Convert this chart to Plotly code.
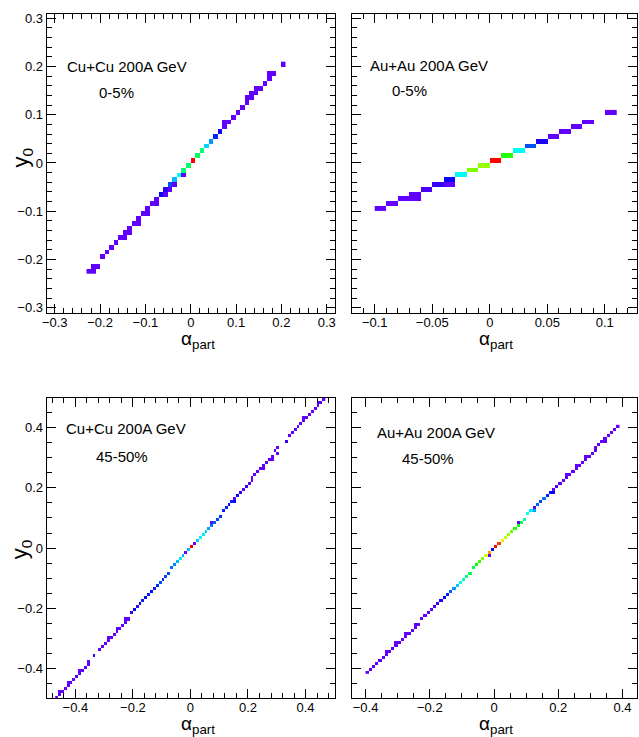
import colorsys
import numpy as np
import plotly.graph_objects as go

BIN = 0.01  # histogram bin width in both alpha_part and y0

# ---------------- Cu+Cu 0-5% ----------------
cucu_central_x = [0.205, 0.185, 0.175, 0.175, 0.165, 0.155, 0.145, 0.145, 0.135, 0.135, 0.125, 0.125,
                  0.115, 0.105, 0.095, 0.085, 0.075, 0.075, 0.065, 0.055, 0.045, 0.035, 0.025, 0.015,
                  0.005, -0.005, -0.015, -0.015, -0.025, -0.035, -0.035, -0.045, -0.045, -0.055, -0.055,
                  -0.065, -0.075, -0.075, -0.085, -0.095, -0.095, -0.105, -0.115, -0.115, -0.125, -0.135,
                  -0.135, -0.145, -0.145, -0.155, -0.165, -0.175, -0.185, -0.195, -0.205, -0.215, -0.215,
                  -0.225]
cucu_central_y = [0.205, 0.185, 0.185, 0.175, 0.165, 0.155, 0.155, 0.145, 0.145, 0.135, 0.135, 0.125,
                  0.115, 0.105, 0.095, 0.085, 0.085, 0.075, 0.065, 0.055, 0.045, 0.035, 0.025, 0.015,
                  0.005, -0.005, -0.015, -0.025, -0.025, -0.035, -0.045, -0.045, -0.055, -0.055, -0.065,
                  -0.065, -0.075, -0.085, -0.085, -0.095, -0.105, -0.105, -0.115, -0.125, -0.125, -0.135,
                  -0.145, -0.145, -0.155, -0.155, -0.165, -0.175, -0.185, -0.195, -0.215, -0.215, -0.225,
                  -0.225]
cucu_central_z = [6, 6, 6, 6, 6, 6, 6, 6, 6, 6, 6, 6,
                  6, 6, 6, 6, 6, 6, 13, 17, 27, 32, 47, 49,
                  100, 49, 47, 6, 36, 30, 6, 21, 6, 11, 6,
                  14, 6, 6, 6, 6, 6, 6, 6, 6, 6, 6,
                  6, 6, 6, 6, 6, 6, 6, 6, 6, 6, 6,
                  6]

# ---------------- Au+Au 0-5% ----------------
auau_central_x = [-0.095, -0.085, -0.075, -0.065, -0.065, -0.055, -0.045, -0.035, -0.035, -0.025, -0.015,
                  -0.005, 0.005, 0.015, 0.025, 0.035, 0.045, 0.055, 0.065, 0.075, 0.085, 0.105]
auau_central_y = [-0.095, -0.085, -0.075, -0.065, -0.075, -0.055, -0.045, -0.035, -0.045, -0.025, -0.015,
                  -0.005, 0.005, 0.015, 0.025, 0.035, 0.045, 0.055, 0.065, 0.075, 0.085, 0.105]
auau_central_z = [6, 6, 6, 6, 6, 8, 10, 14, 6, 36, 68,
                  70, 100, 60, 36, 21, 12, 6, 6, 6, 6, 6]

# ---------------- Cu+Cu 45-50% ----------------
cucu_periph_x = [-0.465, -0.455, -0.455, -0.445, -0.435, -0.425, -0.425, -0.415, -0.405, -0.395, -0.385,
                 -0.385, -0.375, -0.365, -0.355, -0.355, -0.335, -0.315, -0.305, -0.295, -0.285, -0.285,
                 -0.275, -0.265, -0.255, -0.255, -0.245, -0.235, -0.225, -0.225, -0.215, -0.205, -0.195,
                 -0.185, -0.175, -0.165, -0.155, -0.145, -0.135, -0.125, -0.115, -0.105, -0.095, -0.085,
                 -0.075, -0.065, -0.055, -0.045, -0.035, -0.025, -0.015, -0.005, 0.005, 0.015, 0.025,
                 0.035, 0.045, 0.055, 0.065, 0.075, 0.075, 0.085, 0.095, 0.105, 0.115, 0.125, 0.135,
                 0.145, 0.155, 0.155, 0.165, 0.175, 0.185, 0.195, 0.205, 0.215, 0.215, 0.225, 0.235,
                 0.245, 0.255, 0.255, 0.265, 0.275, 0.285, 0.285, 0.295, 0.305, 0.305, 0.335, 0.345,
                 0.355, 0.365, 0.375, 0.385, 0.395, 0.395, 0.405, 0.415, 0.425, 0.435, 0.445, 0.445,
                 0.455, 0.465]
cucu_periph_y = [-0.495, -0.485, -0.475, -0.475, -0.465, -0.455, -0.445, -0.445, -0.435, -0.425, -0.415,
                 -0.405, -0.405, -0.395, -0.385, -0.375, -0.355, -0.335, -0.325, -0.315, -0.305, -0.295,
                 -0.295, -0.285, -0.275, -0.265, -0.265, -0.255, -0.245, -0.235, -0.235, -0.215, -0.205,
                 -0.195, -0.185, -0.175, -0.165, -0.155, -0.145, -0.135, -0.125, -0.115, -0.105, -0.095,
                 -0.085, -0.065, -0.055, -0.045, -0.035, -0.025, -0.015, -0.005, 0.005, 0.015, 0.025,
                 0.035, 0.045, 0.055, 0.065, 0.085, 0.075, 0.085, 0.095, 0.105, 0.125, 0.135, 0.145,
                 0.155, 0.165, 0.155, 0.175, 0.185, 0.195, 0.205, 0.215, 0.225, 0.235, 0.245, 0.255,
                 0.265, 0.275, 0.265, 0.285, 0.295, 0.305, 0.295, 0.325, 0.335, 0.315, 0.355, 0.375,
                 0.385, 0.395, 0.405, 0.415, 0.425, 0.435, 0.435, 0.445, 0.455, 0.465, 0.475, 0.485,
                 0.485, 0.495]
cucu_periph_z = [6, 6, 6, 6, 6, 6, 6, 6, 6, 6, 6,
                 6, 6, 6, 6, 6, 10, 6, 6, 6, 6, 6,
                 6, 6, 6, 6, 6, 6, 6, 6, 6, 10, 14,
                 10, 14, 17, 14, 17, 14, 17, 18, 20, 18, 20,
                 21, 24, 26, 30, 34, 30, 6, 30, 100, 6, 32,
                 36, 34, 32, 28, 6, 24, 22, 20, 18, 17, 17, 14,
                 17, 6, 14, 14, 10, 6, 10, 6, 6, 6, 6, 6,
                 6, 6, 6, 6, 6, 6, 6, 6, 6, 6, 10, 6,
                 6, 6, 6, 6, 6, 6, 6, 6, 6, 6, 6, 6,
                 6, 6]

# ---------------- Au+Au 45-50% ----------------
auau_periph_x = [-0.395, -0.385, -0.375, -0.365, -0.355, -0.345, -0.335, -0.335, -0.325, -0.315, -0.305,
                 -0.305, -0.295, -0.285, -0.275, -0.275, -0.265, -0.255, -0.245, -0.245, -0.235, -0.225,
                 -0.215, -0.205, -0.195, -0.185, -0.175, -0.165, -0.155, -0.145, -0.135, -0.125, -0.115,
                 -0.105, -0.095, -0.085, -0.075, -0.065, -0.055, -0.045, -0.035, -0.025, -0.015, -0.015,
                 -0.005, 0.005, 0.015, 0.025, 0.035, 0.045, 0.055, 0.065, 0.075, 0.075, 0.085, 0.095,
                 0.105, 0.115, 0.125, 0.125, 0.135, 0.145, 0.155, 0.165, 0.175, 0.185, 0.185, 0.195,
                 0.205, 0.215, 0.225, 0.225, 0.235, 0.245, 0.255, 0.255, 0.265, 0.275, 0.285, 0.285,
                 0.295, 0.305, 0.315, 0.315, 0.325, 0.335, 0.345, 0.345, 0.355, 0.365, 0.375, 0.385]
auau_periph_y = [-0.415, -0.405, -0.395, -0.385, -0.375, -0.365, -0.355, -0.345, -0.345, -0.335, -0.325,
                 -0.315, -0.315, -0.305, -0.295, -0.285, -0.285, -0.275, -0.265, -0.255, -0.255, -0.235,
                 -0.225, -0.215, -0.205, -0.195, -0.185, -0.175, -0.165, -0.155, -0.145, -0.135, -0.125,
                 -0.115, -0.105, -0.095, -0.085, -0.065, -0.055, -0.045, -0.035, -0.025, -0.025, -0.015,
                 -0.005, 0.005, 0.015, 0.025, 0.035, 0.045, 0.055, 0.065, 0.085, 0.075, 0.085, 0.095,
                 0.115, 0.125, 0.135, 0.125, 0.145, 0.155, 0.165, 0.175, 0.185, 0.185, 0.195, 0.205,
                 0.215, 0.225, 0.235, 0.245, 0.245, 0.255, 0.265, 0.275, 0.275, 0.285, 0.295, 0.305,
                 0.305, 0.315, 0.335, 0.325, 0.345, 0.355, 0.365, 0.355, 0.375, 0.385, 0.395, 0.405]
auau_periph_z = [6, 6, 6, 6, 6, 6, 6, 6, 6, 6, 6,
                 6, 6, 6, 6, 6, 6, 6, 6, 6, 6, 6,
                 6, 6, 6, 8, 10, 12, 14, 17, 22, 27, 31,
                 36, 42, 46, 50, 52, 57, 62, 68, 76, 6, 87,
                 14, 100, 95, 80, 74, 70, 66, 60, 6, 55, 50, 44,
                 38, 34, 6, 28, 22, 20, 24, 17, 15, 13, 6, 8,
                 6, 6, 6, 6, 6, 6, 6, 6, 6, 6, 6, 6,
                 6, 6, 6, 6, 6, 6, 6, 6, 6, 6, 6, 6]

panel_titles = [("Cu+Cu 200A GeV", "0-5%"), ("Au+Au 200A GeV", "0-5%"),
                ("Cu+Cu 200A GeV", "45-50%"), ("Au+Au 200A GeV", "45-50%")]


def to_grid(xs, ys, zs):
    ix = np.rint((np.asarray(xs) - BIN / 2) / BIN).astype(int)
    iy = np.rint((np.asarray(ys) - BIN / 2) / BIN).astype(int)
    x0, y0 = ix.min(), iy.min()
    grid = [[None] * (ix.max() - x0 + 1) for _ in range(iy.max() - y0 + 1)]
    for a, b, c in zip(ix, iy, zs):
        grid[b - y0][a - x0] = c
    return grid, (x0 + 0.5) * BIN, (y0 + 0.5) * BIN


# ROOT-like "pretty" violet -> red palette
colorscale = []
for t in np.linspace(0, 1, 41):
    r, g, b = colorsys.hls_to_rgb(280 * (1 - t) / 360, 0.5, 1.0)
    colorscale.append([float(t), f"rgb({round(r*255)},{round(g*255)},{round(b*255)})"])

W, H = 639, 737
fig = go.Figure()
datasets = [(cucu_central_x, cucu_central_y, cucu_central_z),
            (auau_central_x, auau_central_y, auau_central_z),
            (cucu_periph_x, cucu_periph_y, cucu_periph_z),
            (auau_periph_x, auau_periph_y, auau_periph_z)]
for i, (xs, ys, zs) in enumerate(datasets):
    grid, gx0, gy0 = to_grid(xs, ys, zs)
    sfx = "" if i == 0 else str(i + 1)
    fig.add_trace(go.Heatmap(z=grid, x0=gx0, dx=BIN, y0=gy0, dy=BIN, zmin=0, zmax=100,
                             colorscale=colorscale, showscale=False, hoverongaps=False,
                             xaxis="x" + sfx, yaxis="y" + sfx))

xdom = [[42 / W, 333 / W], [350 / W, 638 / W], [42 / W, 333 / W], [350 / W, 638 / W]]
ydom = [[1 - 312 / H, 1 - 10.5 / H], [1 - 312 / H, 1 - 10.5 / H],
        [1 - 700 / H, 1 - 397 / H], [1 - 700 / H, 1 - 397 / H]]
xr = [[-0.318, 0.318], [-0.12, 0.128], [-0.5, 0.502], [-0.443, 0.445]]
yr = [[-0.312, 0.308], [-0.312, 0.308], [-0.5, 0.5], [-0.5, 0.5]]
xdt = [(0.1, 0.02), (0.05, 0.01), (0.2, 0.04), (0.2, 0.05)]
ydt = [(0.1, 0.02), (0.1, 0.02), (0.2, 0.05), (0.2, 0.05)]

tickfont = dict(family="Liberation Sans, Arial, sans-serif", size=13, color="black")
layout = dict(width=W, height=H, margin=dict(l=0, r=0, t=0, b=0),
              paper_bgcolor="white", plot_bgcolor="white", showlegend=False)
for i in range(4):
    sfx = "" if i == 0 else str(i + 1)
    common = dict(showline=True, linecolor="black", linewidth=1, mirror="ticks",
                  ticks="inside", ticklen=9, tickwidth=1, tickcolor="black",
                  showgrid=False, zeroline=False, tickfont=tickfont, tick0=0)
    layout["xaxis" + sfx] = dict(common, domain=xdom[i], range=xr[i], anchor="y" + sfx,
                                 dtick=xdt[i][0], ticklabelstandoff=-3,
                                 minor=dict(ticks="inside", ticklen=5, dtick=xdt[i][1], tick0=0,
                                            tickcolor="black", showgrid=False))
    layout["yaxis" + sfx] = dict(common, domain=ydom[i], range=yr[i], anchor="x" + sfx,
                                 dtick=ydt[i][0], showticklabels=(i % 2 == 0),
                                 minor=dict(ticks="inside", ticklen=5, dtick=ydt[i][1], tick0=0,
                                            tickcolor="black", showgrid=False))
fig.update_layout(**layout)

txtfont = dict(family="Liberation Sans, Arial, sans-serif", size=15, color="black")
title_pos = [((123, 63), (113, 89)), ((428, 62), (408, 87)),
             ((122, 428), (118, 456)), ((435, 432), (427, 458))]
for (t1, t2), ((x1, y1), (x2, y2)) in zip(panel_titles, title_pos):
    fig.add_annotation(text=t1, x=x1 / W, y=1 - y1 / H, xref="paper", yref="paper",
                       showarrow=False, font=txtfont, xanchor="center", yanchor="middle")
    fig.add_annotation(text=t2, x=x2 / W, y=1 - y2 / H, xref="paper", yref="paper",
                       showarrow=False, font=txtfont, xanchor="center", yanchor="middle")

axfont = dict(family="Liberation Sans, Arial, sans-serif", size=19, color="black")
for (x, y) in [(176, 325), (476, 325), (176, 713), (476, 713)]:
    fig.add_annotation(text="α<sub>part</sub>", x=x / W, y=1 - y / H, xref="paper", yref="paper",
                       showarrow=False, font=axfont, xanchor="left", yanchor="top")
yfont = dict(family="Liberation Sans, Arial, sans-serif", size=22, color="black")
for (x, y) in [(17, 155), (16, 550)]:
    fig.add_annotation(text="y<sub>0</sub>", x=x / W, y=1 - y / H, xref="paper", yref="paper",
                       showarrow=False, font=yfont, xanchor="center", yanchor="middle",
                       textangle=-90)

fig.write_html("out.html", config={"displayModeBar": False},
               post_script="document.body.style.margin='0';document.body.style.overflow='hidden';")
